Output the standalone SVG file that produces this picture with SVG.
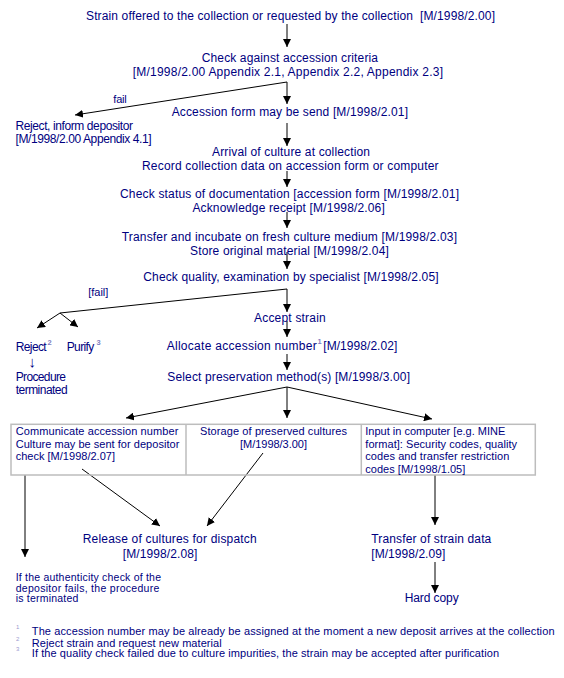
<svg xmlns="http://www.w3.org/2000/svg" width="564" height="678" viewBox="0 0 564 678">
<style>
text{font-family:"Liberation Sans",Arial,sans-serif;fill:#000080;font-size:12px}
.s{font-size:11px}
.xs{font-size:10.5px}
.sup{font-size:7.5px;fill:#7f7fc0;font-weight:bold}
.fn{font-size:6px;fill:#9a9ad0}
.ln{stroke:#000;stroke-width:1;fill:none}
.ar{stroke:#000;stroke-width:1;fill:none;marker-end:url(#ah)}
.tb{stroke:#bdbdbd;stroke-width:1.5;fill:none}
</style>
<defs>
<marker id="ah" viewBox="0 0 8 8" refX="8" refY="4" markerWidth="8" markerHeight="8" markerUnits="userSpaceOnUse" orient="auto">
<path d="M0,0 L8,4 L0,8 z" fill="#000"/>
</marker>
</defs>
<rect width="564" height="678" fill="#fff"/>

<g id="connectors">
<line class="ar" x1="287" y1="24" x2="287" y2="47"/>
<line class="ar" x1="287" y1="82" x2="287" y2="104"/>
<line class="ar" x1="287" y1="82" x2="75" y2="115"/>
<line class="ar" x1="287" y1="123" x2="287" y2="146"/>
<line class="ar" x1="287" y1="171" x2="287" y2="187"/>
<line class="ar" x1="287" y1="212" x2="287" y2="228"/>
<line class="ar" x1="287" y1="252" x2="287" y2="269"/>
<line class="ar" x1="287" y1="289" x2="287" y2="312"/>
<line class="ln" x1="287" y1="289" x2="60" y2="313"/>
<line class="ar" x1="60" y1="313" x2="37" y2="328"/>
<line class="ar" x1="60" y1="313" x2="78" y2="327"/>
<line class="ar" x1="287" y1="321" x2="287" y2="337"/>
<line class="ar" x1="287" y1="354" x2="287" y2="370"/>
<line class="ar" x1="287" y1="387" x2="126" y2="418"/>
<line class="ar" x1="287" y1="387" x2="287" y2="418"/>
<line class="ar" x1="287" y1="387" x2="432" y2="419"/>
<line class="ar" x1="25" y1="475" x2="25" y2="557"/>
<line class="ar" x1="82" y1="469" x2="160" y2="526"/>
<line class="ar" x1="263" y1="453" x2="207" y2="526"/>
<line class="ar" x1="435" y1="475" x2="435" y2="525"/>
<line class="ar" x1="435" y1="562" x2="435" y2="593"/>
</g>

<g id="n-strain-offered">
<text x="86" y="19.5" textLength="409" lengthAdjust="spacing" xml:space="preserve">Strain offered to the collection or requested by the collection  [M/1998/2.00]</text>
</g>
<g id="n-check-criteria">
<text x="201.7" y="61.5" textLength="176.3" lengthAdjust="spacing">Check against accession criteria</text>
<text x="132.7" y="75.5" textLength="310.3" lengthAdjust="spacing">[M/1998/2.00 Appendix 2.1, Appendix 2.2, Appendix 2.3]</text>
</g>
<g id="l-fail">
<text class="s" x="113.3" y="102.5" textLength="13.4" lengthAdjust="spacing">fail</text>
</g>
<g id="n-accession-form">
<text x="171.7" y="115.5" textLength="236.3" lengthAdjust="spacing">Accession form may be send [M/1998/2.01]</text>
</g>
<g id="n-reject-inform">
<text x="15.5" y="129.5" textLength="117.5" lengthAdjust="spacing">Reject, inform depositor</text>
<text x="15.5" y="142.8" textLength="136.1" lengthAdjust="spacing">[M/1998/2.00 Appendix 4.1]</text>
</g>
<g id="n-arrival">
<text x="212" y="156" textLength="158" lengthAdjust="spacing">Arrival of culture at collection</text>
<text x="142" y="170" textLength="296.6" lengthAdjust="spacing">Record collection data on accession form or computer</text>
</g>
<g id="n-check-status">
<text x="120" y="197.8" textLength="339" lengthAdjust="spacing">Check status of documentation [accession form [M/1998/2.01]</text>
<text x="192.4" y="212" textLength="192.4" lengthAdjust="spacing">Acknowledge receipt [M/1998/2.06]</text>
</g>
<g id="n-transfer-incubate">
<text x="121.7" y="240.5" textLength="335.3" lengthAdjust="spacing">Transfer and incubate on fresh culture medium [M/1998/2.03]</text>
<text x="190" y="254.5" textLength="198.8" lengthAdjust="spacing">Store original material [M/1998/2.04]</text>
</g>
<g id="n-check-quality">
<text x="143.3" y="280.5" textLength="295.3" lengthAdjust="spacing">Check quality, examination by specialist [M/1998/2.05]</text>
</g>
<g id="l-fail2">
<text class="s" x="88.3" y="296" textLength="20" lengthAdjust="spacing">[fail]</text>
</g>
<g id="n-accept">
<text x="254" y="322" textLength="71.7" lengthAdjust="spacing">Accept strain</text>
</g>
<g id="n-reject">
<text x="15.7" y="350.5" textLength="31" lengthAdjust="spacing">Reject</text>
<text class="sup" x="47.5" y="344.5">2</text>
<text x="28.5" y="367" style="font-size:15px">↓</text>
<text x="15.7" y="381" textLength="50.3" lengthAdjust="spacing">Procedure</text>
<text x="15.7" y="393.5" textLength="52" lengthAdjust="spacing">terminated</text>
</g>
<g id="n-purify">
<text x="66.7" y="350.5" textLength="27.6" lengthAdjust="spacing">Purify</text>
<text class="sup" x="96.5" y="344.5">3</text>
</g>
<g id="n-allocate">
<text x="166.7" y="350" textLength="150" lengthAdjust="spacing">Allocate accession number</text>
<text class="sup" x="317.5" y="344">1</text>
<text x="323.3" y="350" textLength="74" lengthAdjust="spacing">[M/1998/2.02]</text>
</g>
<g id="n-select">
<text x="167.3" y="380.5" textLength="242.7" lengthAdjust="spacing">Select preservation method(s) [M/1998/3.00]</text>
</g>
<g id="n-table">
<rect class="tb" x="11" y="424.3" width="524.3" height="50.7"/>
<line class="tb" x1="186" y1="424.3" x2="186" y2="475"/>
<line class="tb" x1="361.3" y1="424.3" x2="361.3" y2="475"/>
</g>
<g id="n-communicate">
<text class="s" x="15.7" y="435" textLength="162.6" lengthAdjust="spacing">Communicate accession number</text>
<text class="s" x="15.7" y="447.7" textLength="163.6" lengthAdjust="spacing">Culture may be sent for depositor</text>
<text class="s" x="15.7" y="460.4" textLength="99.3" lengthAdjust="spacing">check [M/1998/2.07]</text>
</g>
<g id="n-storage">
<text class="s" x="200" y="435" textLength="147" lengthAdjust="spacing">Storage of preserved cultures</text>
<text class="s" x="240" y="447.7" textLength="67" lengthAdjust="spacing">[M/1998/3.00]</text>
</g>
<g id="n-input">
<text class="s" x="365.3" y="435" textLength="140" lengthAdjust="spacing">Input in computer [e.g. MINE</text>
<text class="s" x="365.3" y="447.7" textLength="151.7" lengthAdjust="spacing">format]: Security codes, quality</text>
<text class="s" x="365.3" y="460.4" textLength="144" lengthAdjust="spacing">codes and transfer restriction</text>
<text class="s" x="365.3" y="473.1" textLength="100" lengthAdjust="spacing">codes [M/1998/1.05]</text>
</g>
<g id="n-release">
<text x="82.7" y="542.8" textLength="174" lengthAdjust="spacing">Release of cultures for dispatch</text>
<text x="122.7" y="557.8" textLength="74.6" lengthAdjust="spacing">[M/1998/2.08]</text>
</g>
<g id="n-transfer-data">
<text x="371.3" y="542.8" textLength="120" lengthAdjust="spacing">Transfer of strain data</text>
<text x="371.3" y="557.8" textLength="74" lengthAdjust="spacing">[M/1998/2.09]</text>
</g>
<g id="n-hard-copy">
<text x="404.7" y="602" textLength="54" lengthAdjust="spacing">Hard copy</text>
</g>
<g id="n-authenticity">
<text class="xs" x="15.7" y="581" textLength="145.3" lengthAdjust="spacing">If the authenticity check of the</text>
<text class="xs" x="15.7" y="591.5" textLength="143.6" lengthAdjust="spacing">depositor fails, the procedure</text>
<text class="xs" x="15.7" y="602" textLength="62.6" lengthAdjust="spacing">is terminated</text>
</g>
<g id="footnotes">
<text class="fn" x="16" y="628.5">1</text>
<text class="s" x="31.8" y="635.3" textLength="522.7" lengthAdjust="spacing">The accession number may be already be assigned at the moment a new deposit arrives at the collection</text>
<text class="fn" x="16" y="640.5">2</text>
<text class="s" x="31.8" y="646.7" textLength="189.9" lengthAdjust="spacing">Reject strain and request new material</text>
<text class="fn" x="16" y="651">3</text>
<text class="s" x="31.8" y="657.3" textLength="467.2" lengthAdjust="spacing">If the quality check failed due to culture impurities, the strain may be accepted after purification</text>
</g>
</svg>
